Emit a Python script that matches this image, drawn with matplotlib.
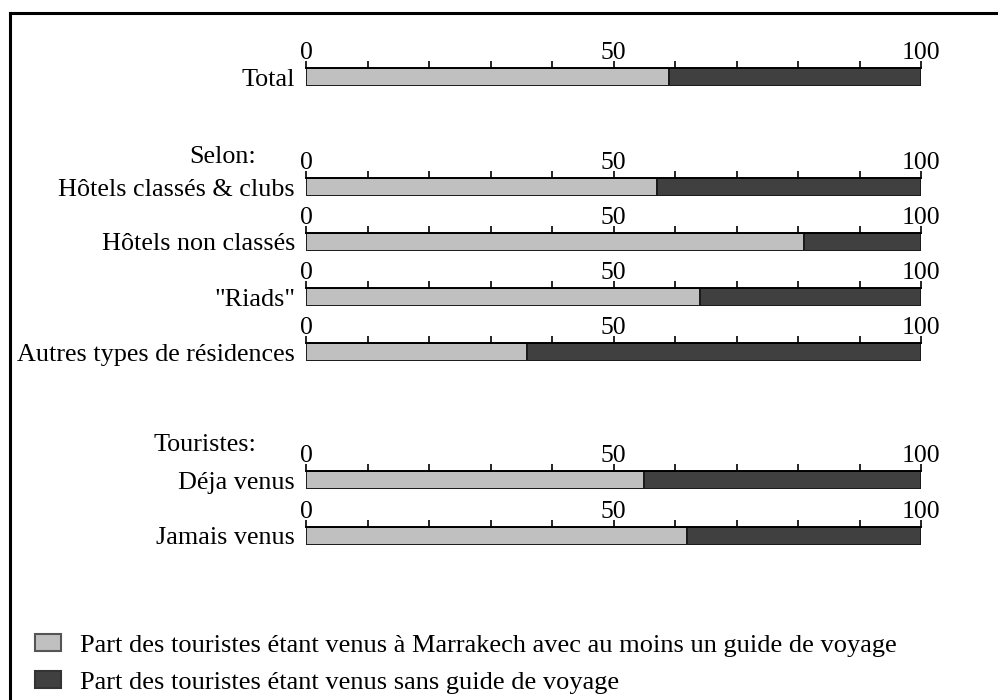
#!/usr/bin/env python3

# Stacked 100% bars: tourists in Marrakech with / without a travel guide

import matplotlib
matplotlib.use("Agg")
import matplotlib.pyplot as plt
from matplotlib.lines import Line2D

# BEG DATA
categories = ["Total", "Hôtels classés & clubs", "Hôtels non classés",
              "\"Riads\"", "Autres types de résidences", "Déja venus", "Jamais venus"]
with_guide = [59, 57, 81, 64, 36, 55, 62]     # %
without_guide = [100 - v for v in with_guide]  # %
group_titles = ["Selon:", "Touristes:"]
legend_labels = ["Part des touristes étant venus à Marrakech avec au moins un guide de voyage",
                 "Part des touristes étant venus sans guide de voyage"]
# END DATA

# layout (pixels in a 998x700 canvas)
W, H = 998, 700
bar_left, bar_right = 306, 921
bar_centres = [77, 187, 242, 297, 352, 480, 536]
bar_h = 18
title_pos = [(256, 157), (256, 445)]

light = "#c0c0c0"
dark = "#404040"
edge = "#1a1a1a"

plt.rcParams["font.family"] = ["Liberation Serif", "DejaVu Serif"]

fig = plt.figure(figsize=(W / 100, H / 100), dpi=100)

for i, cat in enumerate(categories):
    bottom = 1 - (bar_centres[i] + bar_h / 2) / H
    ax = fig.add_axes([bar_left / W, bottom, (bar_right - bar_left) / W, bar_h / H])
    ax.barh(0, with_guide[i], height=1, left=0, color=light, edgecolor=edge, linewidth=1.4)
    ax.barh(0, without_guide[i], height=1, left=with_guide[i], color=dark, edgecolor=edge, linewidth=1.4)
    ax.set_xlim(0, 100)
    ax.set_ylim(-0.5, 0.5)
    for s in ["left", "right", "bottom"]:
        ax.spines[s].set_visible(False)
    ax.spines["top"].set_linewidth(1.4)
    ax.xaxis.tick_top()
    ticks = list(range(0, 101, 10))
    ax.set_xticks(ticks, [str(t) if t % 50 == 0 else "" for t in ticks])
    ax.tick_params(axis="x", direction="out", length=5, width=1.2, pad=-2, labelsize=18.5)
    ax.set_yticks([0], [cat])
    ax.tick_params(axis="y", length=0, pad=8, labelsize=18.8)

for t, (x, y) in zip(group_titles, title_pos):
    fig.text(x / W, 1 - y / H, t, ha="right", va="center", fontsize=18.8)

# legend
handles = [plt.Rectangle((0, 0), 1, 1, facecolor=light, edgecolor="#555555", linewidth=1.5),
           plt.Rectangle((0, 0), 1, 1, facecolor=dark, edgecolor="#333333", linewidth=1.5)]
fig.legend(handles, legend_labels, loc="upper left", bbox_to_anchor=(35 / W, 1 - 634 / H),
           frameon=False, fontsize=19, handlelength=1.0, handleheight=0.6,
           handletextpad=0.7, labelspacing=0.55, borderpad=0, borderaxespad=0)

# frame (only top and left edges are inside the picture)
fig.add_artist(Line2D([10 / W, 10 / W], [0, 1 - 13 / H], color="black", linewidth=2.2))
fig.add_artist(Line2D([10 / W, 1], [1 - 13 / H, 1 - 13 / H], color="black", linewidth=2.2))

fig.savefig("out.png", dpi=100)
